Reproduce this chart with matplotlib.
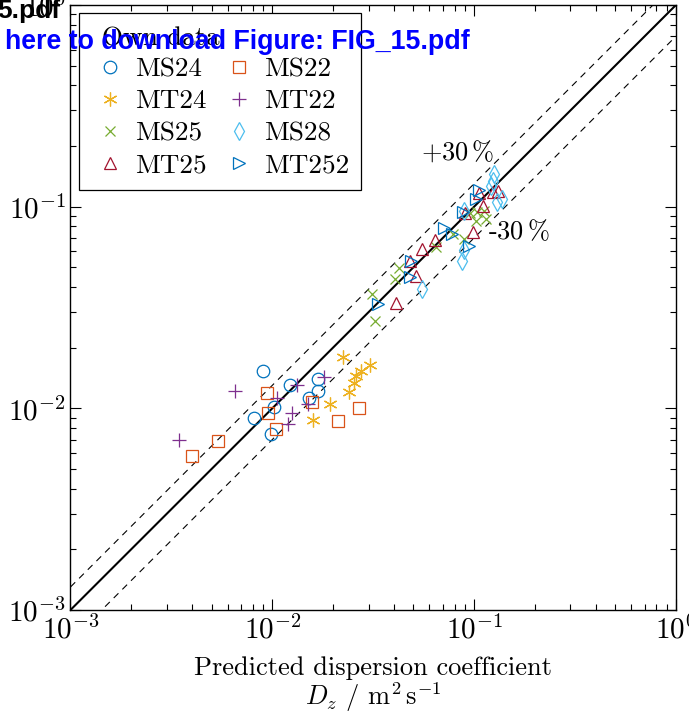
import matplotlib
matplotlib.use("Agg")
import matplotlib.pyplot as plt
import numpy as np

plt.rcParams["font.family"] = "serif"
plt.rcParams["font.serif"] = ["cmr10", "DejaVu Serif"]
plt.rcParams["mathtext.fontset"] = "cm"
plt.rcParams["axes.formatter.use_mathtext"] = True
plt.rcParams["axes.unicode_minus"] = False

# predicted (x) vs measured (y) dispersion coefficients, m^2/s
ms24_x = [0.00898, 0.01227, 0.0169, 0.0169, 0.01517, 0.01023, 0.00815, 0.00985]
ms24_y = [0.01535, 0.0131, 0.01393, 0.01222, 0.01124, 0.01014, 0.00893, 0.00746]

ms22_x = [0.00942, 0.00948, 0.01047, 0.00538, 0.00402, 0.01574, 0.0268, 0.02118]
ms22_y = [0.01189, 0.00946, 0.00789, 0.00692, 0.00581, 0.01069, 0.01009, 0.0087]

mt24_x = [0.02234, 0.03041, 0.02765, 0.02602, 0.02532, 0.0241, 0.01925, 0.01589]
mt24_y = [0.01795, 0.01631, 0.01535, 0.01439, 0.01334, 0.01201, 0.01049, 0.00877]

mt22_x = [0.00655, 0.01055, 0.01327, 0.01253, 0.01197, 0.00343, 0.01797, 0.0150]
mt22_y = [0.01215, 0.01131, 0.0130, 0.00948, 0.00835, 0.00698, 0.01425, 0.01053]

ms25_x = [0.1114, 0.1029, 0.0950, 0.1145, 0.1017, 0.0782, 0.0892, 0.0644,
          0.0422, 0.0405, 0.0312, 0.0321]
ms25_y = [0.0955, 0.0939, 0.0934, 0.0867, 0.0847, 0.0732, 0.0690, 0.0633,
          0.0496, 0.0438, 0.0369, 0.0270]

ms28_x = [0.1249, 0.1242, 0.1215, 0.1377, 0.1300, 0.0887, 0.0890, 0.0867, 0.0552]
ms28_y = [0.1453, 0.1346, 0.1261, 0.1092, 0.1050, 0.0950, 0.0612, 0.0540, 0.0390]

mt25_x = [0.1308, 0.1235, 0.1061, 0.1111, 0.0897, 0.0986, 0.0637, 0.0549,
          0.0483, 0.0518, 0.0412]
mt25_y = [0.1201, 0.1178, 0.1169, 0.1012, 0.0928, 0.0747, 0.0682, 0.0619,
          0.0540, 0.0455, 0.0333]

mt252_x = [0.1061, 0.1023, 0.0877, 0.0710, 0.0773, 0.0947, 0.0487, 0.0480, 0.0334]
mt252_y = [0.1215, 0.1092, 0.0939, 0.0787, 0.0730, 0.0640, 0.0535, 0.0446, 0.0328]

# order chosen so the two-column legend reads row by row
SERIES = [
    ("MS24", ms24_x, ms24_y, "o", "#0072BD", 9),
    ("MT24", mt24_x, mt24_y, (6, 2, 0), "#EDB120", 10),
    ("MS25", ms25_x, ms25_y, "x", "#77AC30", 7),
    ("MT25", mt25_x, mt25_y, "^", "#A2142F", 9),
    ("MS22", ms22_x, ms22_y, "s", "#D95319", 9),
    ("MT22", mt22_x, mt22_y, "+", "#7E2F8E", 10),
    ("MS28", ms28_x, ms28_y, "d", "#4DBEEE", 9),
    ("MT252", mt252_x, mt252_y, ">", "#0072BD", 9),
]

fig = plt.figure(figsize=(6.89, 7.11), dpi=100)
ax = fig.add_axes([0.1023, 0.1421, 0.8788, 0.8509])

ref = np.array([1e-3, 1.0])
ax.plot(ref, ref, color="black", lw=1.5, zorder=1)
ax.plot(ref, 1.3 * ref, color="black", lw=0.8, ls=(0, (6, 5)), zorder=1)
ax.plot(ref, 0.7 * ref, color="black", lw=0.8, ls=(0, (6, 5)), zorder=1)

for name, xs, ys, mk, col, ms in SERIES:
    ax.plot(xs, ys, ls="none", marker=mk, markersize=ms,
            markerfacecolor="none", markeredgecolor=col,
            markeredgewidth=0.9, label=name, zorder=3)

ax.text(0.0543, 0.1875, r"$+30\,\%$", fontsize=19, va="center", ha="left")
ax.text(0.1167, 0.0752, r"-30$\,\%$", fontsize=19, va="center", ha="left")

ax.set_xscale("log")
ax.set_yscale("log")
ax.set_xlim(1e-3, 1)
ax.set_ylim(1e-3, 1)
ax.tick_params(which="both", direction="in", top=True, right=True,
               labelsize=21, width=0.8)
ax.tick_params(which="major", length=8)
ax.tick_params(which="minor", length=4.5)
for sp in ax.spines.values():
    sp.set_linewidth(1.0)

ax.set_xlabel("Predicted dispersion coefficient\n$D_z$ / m$^2\\,$s$^{-1}$",
              fontsize=19, linespacing=1.0, labelpad=9)

leg = ax.legend(loc="upper left", ncol=2, title=r"$\;\,$Own data",
                fontsize=19.5, title_fontsize=19.5, numpoints=1,
                fancybox=False, edgecolor="black", framealpha=1,
                borderaxespad=0.3, handlelength=1.4, columnspacing=0.5,
                handletextpad=0.22, labelspacing=0.3, borderpad=0.45)
leg._legend_box.align = "left"
leg.get_frame().set_linewidth(0.9)

# viewer overlay text
fig.text(60 / 689, 1 - 11 / 711, "5.pdf", fontsize=19, fontweight="bold",
         family="Liberation Sans", ha="right", va="center", color="black")
fig.text(5 / 689, 1 - 42 / 711, "here to download Figure: FIG_15.pdf",
         fontsize=19.3, fontweight="bold", family="Liberation Sans",
         ha="left", va="center", color="#0000FF")

fig.savefig("out.png", dpi=100)
